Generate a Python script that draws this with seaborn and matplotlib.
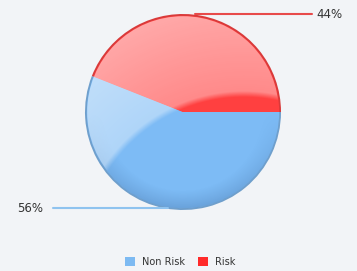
import numpy as np
import seaborn as sns
from matplotlib import pyplot as plt
from matplotlib.patches import Circle, Patch

# data
labels = ['Non Risk', 'Risk']
values = [56, 44]
colors = ['#7dbbf5', '#ff4040']
rim_colors = ['#6f9fcc', '#d83a3a']
line_colors = ['#8fc3ef', '#e84a4a']

sns.set_theme(style='white')
plt.rcParams['font.family'] = ['DejaVu Sans']

bg = '#f2f4f7'
fig = plt.figure(figsize=(3.57, 2.71), dpi=100, facecolor=bg)
ax = fig.add_axes([0, 0, 1, 1])
ax.set_facecolor(bg)

cx, cy, r = 183, 159, 98

# darker rim underneath, main wedges on top
ax.pie(values, colors=rim_colors, startangle=0, counterclock=False,
       center=(cx, cy), radius=r, frame=True, wedgeprops=dict(linewidth=0))
ax.pie(values, colors=colors, startangle=0, counterclock=False,
       center=(cx, cy), radius=r - 1.8, frame=True,
       wedgeprops=dict(linewidth=0))
ax.set_aspect('equal')
ax.axis('off')

# glossy highlight: upper-left area outside a big circle sitting lower-right
gx, gy = np.meshgrid(np.linspace(cx - r, cx + r, 400), np.linspace(cy - r, cy + r, 400))
dist = np.hypot(gx - 244, gy - 12)
t = dist - 162
alpha = np.clip(t / 6, 0, 1) * (0.38 + 0.22 * np.clip(t / 120, 0, 1))
rgba = np.ones(gx.shape + (4,))
rgba[..., 3] = alpha
img = ax.imshow(rgba, extent=(cx - r, cx + r, cy - r, cy + r), origin='lower',
                interpolation='bilinear', zorder=3)
img.set_clip_path(Circle((cx, cy), r - 2.2, transform=ax.transData))

# soft shading along the lower edge
rr = np.hypot(gx - cx, gy - cy) / r
low = np.clip((cy - gy) / r, 0, 1)
shade = np.zeros(gx.shape + (4,))
shade[..., :3] = [0.15, 0.3, 0.5]
shade[..., 3] = np.clip((rr - 0.8) / 0.2, 0, 1) * low * 0.25
img2 = ax.imshow(shade, extent=(cx - r, cx + r, cy - r, cy + r), origin='lower',
                 interpolation='bilinear', zorder=2.5)
img2.set_clip_path(Circle((cx, cy), r - 1.8, transform=ax.transData))
ax.set_xlim(0, 357)
ax.set_ylim(0, 271)

# leader lines and labels
ax.plot([195, 312], [271 - 14, 271 - 14], color=line_colors[1], lw=1.5)
ax.text(316, 271 - 14, f'{values[1]}%', va='center', ha='left',
        fontsize=8.5, color='#333333')
ax.plot([53, 168], [271 - 208, 271 - 208], color=line_colors[0], lw=1.5)
ax.text(43, 271 - 208, f'{values[0]}%', va='center', ha='right',
        fontsize=8.5, color='#333333')

handles = [Patch(facecolor=c, edgecolor='none') for c in ['#7dbaf2', '#ff2a2a']]
ax.legend(handles, labels, loc='center', bbox_to_anchor=(0.505, 0.035),
          ncol=2, frameon=False, fontsize=7, handlelength=1.0,
          handleheight=1.0, columnspacing=1.3, handletextpad=0.8,
          labelcolor='#333333')

fig.savefig('out.png', dpi=100, facecolor=bg)
